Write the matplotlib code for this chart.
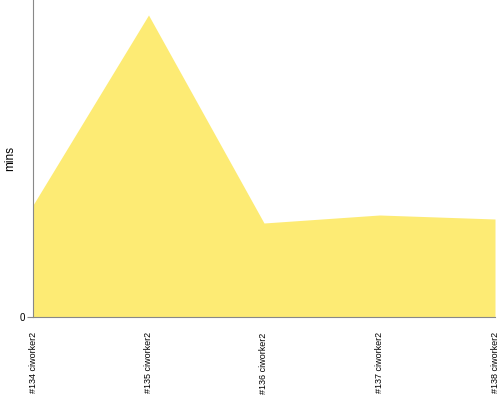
import matplotlib
matplotlib.use("Agg")
import matplotlib.pyplot as plt

categories = ["#134 ciworker2", "#135 ciworker2", "#136 ciworker2", "#137 ciworker2", "#138 ciworker2"]
values = [11.2, 30.2, 9.4, 10.2, 9.8]
ytick_values = [0]

fig = plt.figure(figsize=(5, 4), dpi=100)
ax = fig.add_axes([0.066, 0.2075, 0.924, 0.7925])
x = list(range(len(categories)))
ax.fill_between(x, values, 0, color="#FDEB74", linewidth=0)
ax.set_xlim(0, len(categories) - 1)
ax.set_ylim(0, 31.7)
ax.set_xticks(x)
ax.set_xticklabels(categories, rotation=90, fontsize=6.5, va="top", ha="center",
                   family="Liberation Sans")
ax.tick_params(axis="x", length=0, pad=11)
ax.set_yticks(ytick_values)
ax.set_yticklabels(["0"], fontsize=7, family="Liberation Sans")
ax.tick_params(axis="y", length=4, width=0.8, color="#888888", pad=2)
ax.set_ylabel("mins", fontsize=8.5, family="Liberation Sans")
ax.yaxis.set_label_coords(-0.036, 0.5)
for s in ["top", "right"]:
    ax.spines[s].set_visible(False)
for s in ["left", "bottom"]:
    ax.spines[s].set_color("#888888")
    ax.spines[s].set_linewidth(0.8)
fig.savefig("out.png", dpi=100)
